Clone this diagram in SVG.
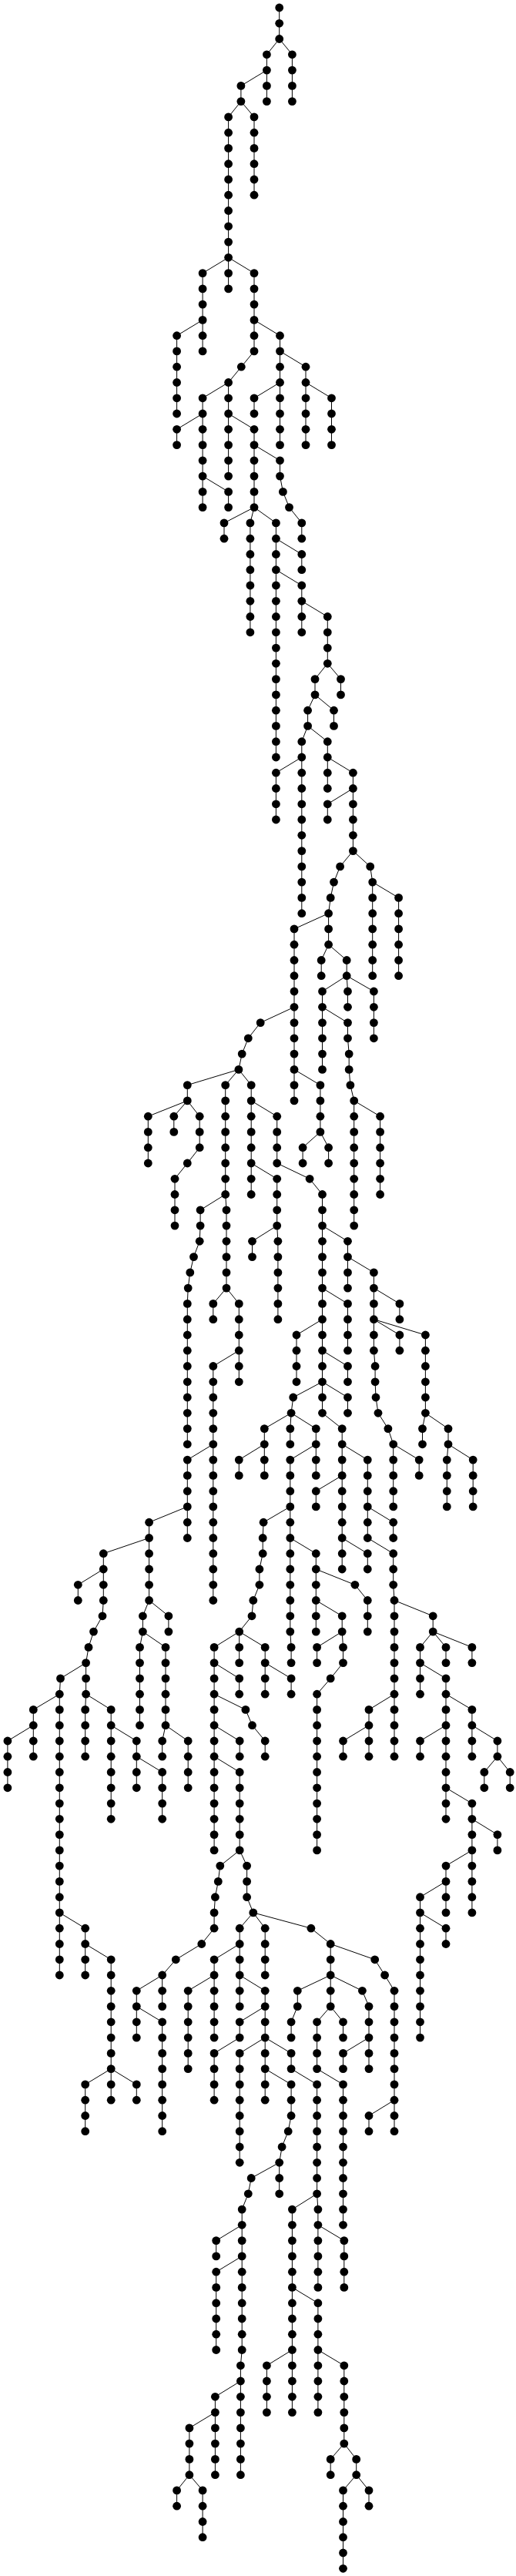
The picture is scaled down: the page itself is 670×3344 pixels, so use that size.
<svg xmlns="http://www.w3.org/2000/svg" xmlns:xlink="http://www.w3.org/1999/xlink" width="670" height="3344" viewBox="0 0 670 3344">
<style>.e{fill:none;stroke:#000;stroke-width:1}</style>
<defs><circle id="d" r="5.4" fill="#000"/></defs>
<rect width="670" height="3344" fill="#fff"/>
<g id="connectors">
<path class="e" d="M362.7 10V50.5M362.7 2807.3V2847.8M346.4 70.8V131.6M346.4 3070.8V3131.6M379.4 70.8V131.6M379.4 2868.1V3131.6M312.9 111.4V131.6M296.6 151.9V374.9M296.6 496.5V618.1M296.6 638.4V658.6M330 151.9V253.2M330 354.6V455.9M330 516.8V537M330 557.3V658.6M263.1 354.6V455.9M263.1 516.8V658.6M263.1 3232.9V3293.7M229.6 435.7V537M229.6 557.3V577.6M229.6 3232.9V3253.2M363.5 435.7V577.6M363.5 597.8V618.1M397 476.2V577.6M430.5 516.8V577.6M291 678.9V699.2M324.9 678.9V820.8M358.4 678.9V983M358.4 1003.2V1064M391.8 678.9V699.2M391.8 719.5V739.7M391.8 760V820.8M391.8 962.7V1185.7M425.3 800.5V861.3M425.3 962.7V1023.5M425.3 1043.8V1064M409 881.6V901.9M442.5 881.6V901.9M399.6 922.2V942.4M433.5 922.2V942.4M458.4 1003.2V1104.6M483.7 1145.1V1266.7M429.2 2523.5V2604.6M429.2 3192.4V3212.7M517.6 1165.4V1266.7M426.6 1185.7V1226.2M426.6 1489.7V1510M382 1205.9V1428.9M417.2 1246.5V1266.7M450.2 1246.5V1266.7M418.5 1287V1388.4M418.5 1550.5V1834.3M451.5 1287V1307.3M451.5 1327.6V1347.8M451.5 1611.3V1672.1M451.5 1692.4V1753.2M451.5 1773.5V1793.8M451.5 1814V1834.3M485.4 1287V1347.8M485.4 1651.9V1753.2M453.2 1368.1V1388.4M314.2 2868.1V3050.5M243.3 1408.6V1428.9M243.3 1692.4V1874.8M243.3 1895.1V1996.5M292.7 1408.6V1550.5M326.2 1408.6V1550.5M415.9 1408.6V1469.4M459.7 1428.9V1591.1M192.3 1449.2V1510M225.8 1449.2V1469.4M259.2 1449.2V1489.7M359.7 1449.2V1510M359.7 1530.3V1591.1M493.6 1449.2V1550.5M393.1 1489.7V1510M227 1530.3V1591.1M260.1 1570.8V1591.1M294 1570.8V1672.1M327.5 1611.3V1631.6M360.9 1611.3V1712.7M244.2 2260V2320.8M244.2 2584.3V2685.6M276.8 1692.4V1712.7M276.8 1773.5V2077.5M310.3 1692.4V1793.8M310.3 1895.1V1915.4M518.9 1692.4V1712.7M518.9 1733V1753.2M385 1733V1793.8M552.4 1733V1834.3M487.1 1773.5V1793.8M378.1 2138.4V2158.6M378.1 2178.9V2199.2M378.1 2624.8V2645.1M378.1 2665.4V2685.6M378.1 2705.9V2746.5M343.3 1854.6V1915.4M376.8 1854.6V1874.8M376.8 1895.1V2118.1M410.3 1854.6V1915.4M410.3 1935.7V1955.9M410.3 2016.7V2118.1M444.2 1854.6V2037M444.2 2097.8V2118.1M548.5 1854.6V1874.8M582 1854.6V1874.8M510.7 1874.8V1955.9M510.7 1976.2V1996.5M510.7 2016.7V2057.3M477.3 1895.1V1996.5M477.3 2016.7V2037M477.3 2077.5V2118.1M544.2 1895.1V1915.4M580.3 1895.1V1955.9M614.2 1895.1V1955.9M193.6 1976.2V2077.5M341.2 1996.5V2016.7M134.3 2016.7V2077.5M336.9 2037V2057.3M101.3 2057.3V2077.5M512 2077.5V2280.2M512 2584.3V2766.7M185.4 2097.8V2118.1M218.9 2097.8V2118.1M562.2 2097.8V2118.1M310.7 2118.1V2158.6M310.7 2178.9V2199.2M181.5 2138.4V2239.7M215 2138.4V2239.7M278.1 2138.4V2401.9M278.1 2482.9V2503.2M278.1 2543.8V2645.1M278.1 2665.4V2726.2M344.2 2138.4V2199.2M344.2 2260V2280.2M344.2 2503.2V2564M344.2 2584.3V2726.2M411.6 2138.4V2158.6M411.6 2199.2V2401.9M411.6 2624.8V2685.6M411.6 2705.9V2847.8M445.5 2138.4V2158.6M445.5 2260V2280.2M445.5 2624.8V2645.1M445.5 2665.4V2685.6M445.5 2705.9V2888.3M445.5 3232.9V3334.3M545.5 2138.4V2199.2M545.5 2260V2280.2M545.5 2462.7V2645.1M579 2138.4V2158.6M579 2178.9V2361.3M579 2422.1V2482.9M579 2503.2V2523.5M612.9 2138.4V2158.6M612.9 2219.4V2280.2M612.9 2341.1V2482.9M111.6 2158.6V2199.2M77.3 2199.2V2564M43.3 2219.4V2280.2M110.7 2219.4V2280.2M110.7 2503.2V2564M110.7 2705.9V2766.7M144.2 2219.4V2361.3M144.2 2543.8V2726.2M479 2219.4V2280.2M479 2604.6V2685.6M479 2746.5V2766.7M479 3232.9V3253.2M9.9 2260V2320.8M177.3 2260V2320.8M177.3 2584.3V2645.1M177.3 2705.9V2726.2M210.7 2260V2280.2M210.7 2300.5V2361.3M210.7 2564V2604.6M210.7 2624.8V2766.7M311.2 2260V2280.2M311.2 2300.5V2401.9M311.2 2503.2V2604.6M311.2 2624.8V2645.1M311.2 2665.4V2807.3M645.9 2260V2280.2M645.9 2381.6V2401.9M628.8 2300.5V2320.8M662.2 2300.5V2320.8M320.6 2422.1V2462.7M279.4 3111.3V3212.7M386.3 2584.3V2604.6M412.9 2868.1V2969.4M412.9 2989.7V3131.6M280.7 2908.6V2928.9M280.7 2949.2V3050.5M446.8 2908.6V2969.4M446.8 3070.8V3172.1M312.4 3070.8V3212.7M245.9 3151.9V3212.7M462.7 3192.4V3212.7"/>
<path class="e" d="M362.7 50.5L346.4 70.8M362.7 50.5L379.4 70.8M346.4 91.1L312.9 111.4M312.9 131.6L296.6 151.9M312.9 131.6L330 151.9M296.6 334.3L263.1 354.6M296.6 334.3L330 354.6M263.1 415.4L229.6 435.7M330 415.4L363.5 435.7M330 455.9L313.3 476.2M363.5 455.9L397 476.2M313.3 476.2L296.6 496.5M296.6 496.5L263.1 516.8M363.5 496.5L330 516.8M397 496.5L430.5 516.8M263.1 537L229.6 557.3M296.6 537L330 557.3M330 577.6L363.5 597.8M263.1 618.1L296.6 638.4M363.5 618.1L367.4 638.4M367.4 638.4L375.5 658.6M330 658.6L291 678.9M330 658.6L324.9 678.9M330 658.6L358.4 678.9M375.5 658.6L391.8 678.9M358.4 699.2L391.8 719.5M358.4 739.7L391.8 760M391.8 780.3L425.3 800.5M425.3 861.3L409 881.6M425.3 861.3L442.5 881.6M409 901.9L399.6 922.2M409 901.9L433.5 922.2M399.6 942.4L391.8 962.7M399.6 942.4L425.3 962.7M391.8 983L358.4 1003.2M425.3 983L458.4 1003.2M458.4 1023.5L425.3 1043.8M458.4 1104.6L441.6 1124.9M458.4 1104.6L480.7 1124.9M441.6 1124.9L433.5 1145.1M480.7 1124.9L483.7 1145.1M433.5 1145.1L429.2 1165.4M483.7 1145.1L517.6 1165.4M429.2 1165.4L426.6 1185.7M426.6 1185.7L382 1205.9M426.6 1226.2L417.2 1246.5M426.6 1226.2L450.2 1246.5M450.2 1266.7L418.5 1287M450.2 1266.7L451.5 1287M450.2 1266.7L485.4 1287M382 1307.3L338.2 1327.6M418.5 1307.3L451.5 1327.6M338.2 1327.6L322.3 1347.8M322.3 1347.8L314.2 1368.1M451.5 1347.8L453.2 1368.1M314.2 1368.1L309.9 1388.4M309.9 1388.4L243.3 1408.6M309.9 1388.4L292.7 1408.6M309.9 1388.4L326.2 1408.6M382 1388.4L415.9 1408.6M453.2 1388.4L454.9 1408.6M454.9 1408.6L459.7 1428.9M243.3 1428.9L192.3 1449.2M243.3 1428.9L225.8 1449.2M243.3 1428.9L259.2 1449.2M326.2 1428.9L359.7 1449.2M459.7 1428.9L493.6 1449.2M415.9 1469.4L393.1 1489.7M415.9 1469.4L426.6 1489.7M259.2 1489.7L243.3 1510M243.3 1510L227 1530.3M326.2 1510L359.7 1530.3M359.7 1510L402.1 1530.3M402.1 1530.3L418.5 1550.5M292.7 1550.5L260.1 1570.8M292.7 1550.5L294 1570.8M260.1 1591.1L259.2 1611.3M359.7 1591.1L327.5 1611.3M359.7 1591.1L360.9 1611.3M418.5 1591.1L451.5 1611.3M259.2 1611.3L251.5 1631.6M251.5 1631.6L246.8 1651.9M451.5 1631.6L485.4 1651.9M246.8 1651.9L244.2 1672.1M244.2 1672.1L243.3 1692.4M294 1672.1L276.8 1692.4M294 1672.1L310.3 1692.4M418.5 1672.1L451.5 1692.4M485.4 1672.1L518.9 1692.4M418.5 1712.7L385 1733M485.4 1712.7L518.9 1733M485.4 1712.7L552.4 1733M310.3 1753.2L276.8 1773.5M418.5 1753.2L451.5 1773.5M485.4 1753.2L487.1 1773.5M418.5 1793.8L380.7 1814M418.5 1793.8L451.5 1814M487.1 1793.8L488 1814M380.7 1814L378.1 1834.3M488 1814L491 1834.3M378.1 1834.3L343.3 1854.6M378.1 1834.3L376.8 1854.6M378.1 1834.3L410.3 1854.6M418.5 1834.3L444.2 1854.6M491 1834.3L503.9 1854.6M552.4 1834.3L548.5 1854.6M552.4 1834.3L582 1854.6M503.9 1854.6L510.7 1874.8M276.8 1874.8L243.3 1895.1M343.3 1874.8L310.3 1895.1M410.3 1874.8L376.8 1895.1M444.2 1874.8L477.3 1895.1M510.7 1874.8L544.2 1895.1M582 1874.8L580.3 1895.1M582 1874.8L614.2 1895.1M444.2 1915.4L410.3 1935.7M243.3 1955.9L193.6 1976.2M376.8 1955.9L342.1 1976.2M477.3 1955.9L510.7 1976.2M342.1 1976.2L341.2 1996.5M193.6 1996.5L134.3 2016.7M376.8 1996.5L410.3 2016.7M444.2 1996.5L477.3 2016.7M477.3 1996.5L510.7 2016.7M341.2 2016.7L336.9 2037M134.3 2037L101.3 2057.3M410.3 2037L460.9 2057.3M336.9 2057.3L328.8 2077.5M460.9 2057.3L477.3 2077.5M510.7 2057.3L512 2077.5M134.3 2077.5L133 2097.8M193.6 2077.5L185.4 2097.8M193.6 2077.5L218.9 2097.8M328.8 2077.5L327 2097.8M410.3 2077.5L444.2 2097.8M512 2077.5L562.2 2097.8M133 2097.8L121.5 2118.1M327 2097.8L310.7 2118.1M121.5 2118.1L115 2138.4M185.4 2118.1L181.5 2138.4M185.4 2118.1L215 2138.4M310.7 2118.1L278.1 2138.4M310.7 2118.1L344.2 2138.4M376.8 2118.1L378.1 2138.4M444.2 2118.1L411.6 2138.4M444.2 2118.1L445.5 2138.4M562.2 2118.1L545.5 2138.4M562.2 2118.1L579 2138.4M562.2 2118.1L612.9 2138.4M115 2138.4L111.6 2158.6M111.6 2158.6L78.5 2178.9M278.1 2158.6L310.7 2178.9M344.2 2158.6L378.1 2178.9M445.5 2158.6L429.2 2178.9M545.5 2158.6L579 2178.9M78.5 2178.9L77.3 2199.2M429.2 2178.9L411.6 2199.2M77.3 2199.2L43.3 2219.4M111.6 2199.2L110.7 2219.4M111.6 2199.2L144.2 2219.4M278.1 2199.2L318.9 2219.4M512 2199.2L479 2219.4M579 2199.2L612.9 2219.4M318.9 2219.4L327.5 2239.7M43.3 2239.7L9.9 2260M144.2 2239.7L177.3 2260M215 2239.7L210.7 2260M215 2239.7L244.2 2260M278.1 2239.7L311.2 2260M327.5 2239.7L344.2 2260M479 2239.7L445.5 2260M579 2239.7L545.5 2260M612.9 2239.7L645.9 2260M177.3 2280.2L210.7 2300.5M278.1 2280.2L311.2 2300.5M645.9 2280.2L628.8 2300.5M645.9 2280.2L662.2 2300.5M579 2320.8L612.9 2341.1M612.9 2361.3L645.9 2381.6M311.2 2401.9L285.8 2422.1M311.2 2401.9L320.6 2422.1M612.9 2401.9L579 2422.1M285.8 2422.1L283.3 2442.4M283.3 2442.4L279.4 2462.7M579 2442.4L545.5 2462.7M279.4 2462.7L278.1 2482.9M320.6 2462.7L328.8 2482.9M77.3 2482.9L110.7 2503.2M328.8 2482.9L311.2 2503.2M328.8 2482.9L344.2 2503.2M328.8 2482.9L403.9 2503.2M545.5 2482.9L579 2503.2M278.1 2503.2L261.8 2523.5M403.9 2503.2L429.2 2523.5M110.7 2523.5L144.2 2543.8M261.8 2523.5L228.3 2543.8M311.2 2523.5L278.1 2543.8M429.2 2523.5L486.7 2543.8M228.3 2543.8L210.7 2564M486.7 2543.8L499.6 2564M210.7 2564L177.3 2584.3M278.1 2564L244.2 2584.3M311.2 2564L344.2 2584.3M429.2 2564L386.3 2584.3M429.2 2564L470.4 2584.3M499.6 2564L512 2584.3M470.4 2584.3L479 2604.6M177.3 2604.6L210.7 2624.8M344.2 2604.6L311.2 2624.8M386.3 2604.6L378.1 2624.8M429.2 2604.6L411.6 2624.8M429.2 2604.6L445.5 2624.8M311.2 2645.1L278.1 2665.4M344.2 2645.1L311.2 2665.4M344.2 2645.1L378.1 2665.4M479 2645.1L445.5 2665.4M144.2 2685.6L110.7 2705.9M144.2 2685.6L177.3 2705.9M344.2 2685.6L378.1 2705.9M378.1 2685.6L411.6 2705.9M411.6 2685.6L445.5 2705.9M512 2726.2L479 2746.5M378.1 2746.5L374.2 2766.7M374.2 2766.7L366.1 2787M366.1 2787L362.7 2807.3M362.7 2807.3L326.2 2827.5M326.2 2827.5L322.3 2847.8M322.3 2847.8L314.2 2868.1M411.6 2847.8L379.4 2868.1M411.6 2847.8L412.9 2868.1M314.2 2888.3L280.7 2908.6M412.9 2888.3L446.8 2908.6M314.2 2928.9L280.7 2949.2M379.4 2969.4L412.9 2989.7M314.2 3050.5L312.4 3070.8M379.4 3050.5L346.4 3070.8M412.9 3050.5L446.8 3070.8M312.4 3091L279.4 3111.3M279.4 3131.6L245.9 3151.9M446.8 3172.1L429.2 3192.4M446.8 3172.1L462.7 3192.4M245.9 3212.7L229.6 3232.9M245.9 3212.7L263.1 3232.9M462.7 3212.7L445.5 3232.9M462.7 3212.7L479 3232.9"/>
</g>
<g id="nodes">
<g id="n0-845"><use href="#d" x="362.7" y="10"/></g>
<g id="n1-845"><use href="#d" x="362.7" y="30.3"/></g>
<g id="n2-845"><use href="#d" x="362.7" y="50.5"/></g>
<g id="n138-845"><use href="#d" x="362.7" y="2807.3"/></g>
<g id="n139-845"><use href="#d" x="362.7" y="2827.5"/></g>
<g id="n140-845"><use href="#d" x="362.7" y="2847.8"/></g>
<g id="n3-807"><use href="#d" x="346.4" y="70.8"/></g>
<g id="n4-807"><use href="#d" x="346.4" y="91.1"/></g>
<g id="n5-807"><use href="#d" x="346.4" y="111.4"/></g>
<g id="n6-807"><use href="#d" x="346.4" y="131.6"/></g>
<g id="n151-807"><use href="#d" x="346.4" y="3070.8"/></g>
<g id="n152-807"><use href="#d" x="346.4" y="3091"/></g>
<g id="n153-807"><use href="#d" x="346.4" y="3111.3"/></g>
<g id="n154-807"><use href="#d" x="346.4" y="3131.6"/></g>
<g id="n3-884"><use href="#d" x="379.4" y="70.8"/></g>
<g id="n4-884"><use href="#d" x="379.4" y="91.1"/></g>
<g id="n5-884"><use href="#d" x="379.4" y="111.4"/></g>
<g id="n6-884"><use href="#d" x="379.4" y="131.6"/></g>
<g id="n141-884"><use href="#d" x="379.4" y="2868.1"/></g>
<g id="n142-884"><use href="#d" x="379.4" y="2888.3"/></g>
<g id="n143-884"><use href="#d" x="379.4" y="2908.6"/></g>
<g id="n144-884"><use href="#d" x="379.4" y="2928.9"/></g>
<g id="n145-884"><use href="#d" x="379.4" y="2949.2"/></g>
<g id="n146-884"><use href="#d" x="379.4" y="2969.4"/></g>
<g id="n147-884"><use href="#d" x="379.4" y="2989.7"/></g>
<g id="n148-884"><use href="#d" x="379.4" y="3010"/></g>
<g id="n149-884"><use href="#d" x="379.4" y="3030.2"/></g>
<g id="n150-884"><use href="#d" x="379.4" y="3050.5"/></g>
<g id="n151-884"><use href="#d" x="379.4" y="3070.8"/></g>
<g id="n152-884"><use href="#d" x="379.4" y="3091"/></g>
<g id="n153-884"><use href="#d" x="379.4" y="3111.3"/></g>
<g id="n154-884"><use href="#d" x="379.4" y="3131.6"/></g>
<g id="n5-729"><use href="#d" x="312.9" y="111.4"/></g>
<g id="n6-729"><use href="#d" x="312.9" y="131.6"/></g>
<g id="n7-691"><use href="#d" x="296.6" y="151.9"/></g>
<g id="n8-691"><use href="#d" x="296.6" y="172.2"/></g>
<g id="n9-691"><use href="#d" x="296.6" y="192.4"/></g>
<g id="n10-691"><use href="#d" x="296.6" y="212.7"/></g>
<g id="n11-691"><use href="#d" x="296.6" y="233"/></g>
<g id="n12-691"><use href="#d" x="296.6" y="253.2"/></g>
<g id="n13-691"><use href="#d" x="296.6" y="273.5"/></g>
<g id="n14-691"><use href="#d" x="296.6" y="293.8"/></g>
<g id="n15-691"><use href="#d" x="296.6" y="314.1"/></g>
<g id="n16-691"><use href="#d" x="296.6" y="334.3"/></g>
<g id="n17-691"><use href="#d" x="296.6" y="354.6"/></g>
<g id="n18-691"><use href="#d" x="296.6" y="374.9"/></g>
<g id="n24-691"><use href="#d" x="296.6" y="496.5"/></g>
<g id="n25-691"><use href="#d" x="296.6" y="516.8"/></g>
<g id="n26-691"><use href="#d" x="296.6" y="537"/></g>
<g id="n27-691"><use href="#d" x="296.6" y="557.3"/></g>
<g id="n28-691"><use href="#d" x="296.6" y="577.6"/></g>
<g id="n29-691"><use href="#d" x="296.6" y="597.8"/></g>
<g id="n30-691"><use href="#d" x="296.6" y="618.1"/></g>
<g id="n31-691"><use href="#d" x="296.6" y="638.4"/></g>
<g id="n32-691"><use href="#d" x="296.6" y="658.6"/></g>
<g id="n7-769"><use href="#d" x="330" y="151.9"/></g>
<g id="n8-769"><use href="#d" x="330" y="172.2"/></g>
<g id="n9-769"><use href="#d" x="330" y="192.4"/></g>
<g id="n10-769"><use href="#d" x="330" y="212.7"/></g>
<g id="n11-769"><use href="#d" x="330" y="233"/></g>
<g id="n12-769"><use href="#d" x="330" y="253.2"/></g>
<g id="n17-769"><use href="#d" x="330" y="354.6"/></g>
<g id="n18-769"><use href="#d" x="330" y="374.9"/></g>
<g id="n19-769"><use href="#d" x="330" y="395.1"/></g>
<g id="n20-769"><use href="#d" x="330" y="415.4"/></g>
<g id="n21-769"><use href="#d" x="330" y="435.7"/></g>
<g id="n22-769"><use href="#d" x="330" y="455.9"/></g>
<g id="n25-769"><use href="#d" x="330" y="516.8"/></g>
<g id="n26-769"><use href="#d" x="330" y="537"/></g>
<g id="n27-769"><use href="#d" x="330" y="557.3"/></g>
<g id="n28-769"><use href="#d" x="330" y="577.6"/></g>
<g id="n29-769"><use href="#d" x="330" y="597.8"/></g>
<g id="n30-769"><use href="#d" x="330" y="618.1"/></g>
<g id="n31-769"><use href="#d" x="330" y="638.4"/></g>
<g id="n32-769"><use href="#d" x="330" y="658.6"/></g>
<g id="n17-613"><use href="#d" x="263.1" y="354.6"/></g>
<g id="n18-613"><use href="#d" x="263.1" y="374.9"/></g>
<g id="n19-613"><use href="#d" x="263.1" y="395.1"/></g>
<g id="n20-613"><use href="#d" x="263.1" y="415.4"/></g>
<g id="n21-613"><use href="#d" x="263.1" y="435.7"/></g>
<g id="n22-613"><use href="#d" x="263.1" y="455.9"/></g>
<g id="n25-613"><use href="#d" x="263.1" y="516.8"/></g>
<g id="n26-613"><use href="#d" x="263.1" y="537"/></g>
<g id="n27-613"><use href="#d" x="263.1" y="557.3"/></g>
<g id="n28-613"><use href="#d" x="263.1" y="577.6"/></g>
<g id="n29-613"><use href="#d" x="263.1" y="597.8"/></g>
<g id="n30-613"><use href="#d" x="263.1" y="618.1"/></g>
<g id="n31-613"><use href="#d" x="263.1" y="638.4"/></g>
<g id="n32-613"><use href="#d" x="263.1" y="658.6"/></g>
<g id="n159-613"><use href="#d" x="263.1" y="3232.9"/></g>
<g id="n160-613"><use href="#d" x="263.1" y="3253.2"/></g>
<g id="n161-613"><use href="#d" x="263.1" y="3273.5"/></g>
<g id="n162-613"><use href="#d" x="263.1" y="3293.7"/></g>
<g id="n21-535"><use href="#d" x="229.6" y="435.7"/></g>
<g id="n22-535"><use href="#d" x="229.6" y="455.9"/></g>
<g id="n23-535"><use href="#d" x="229.6" y="476.2"/></g>
<g id="n24-535"><use href="#d" x="229.6" y="496.5"/></g>
<g id="n25-535"><use href="#d" x="229.6" y="516.8"/></g>
<g id="n26-535"><use href="#d" x="229.6" y="537"/></g>
<g id="n27-535"><use href="#d" x="229.6" y="557.3"/></g>
<g id="n28-535"><use href="#d" x="229.6" y="577.6"/></g>
<g id="n159-535"><use href="#d" x="229.6" y="3232.9"/></g>
<g id="n160-535"><use href="#d" x="229.6" y="3253.2"/></g>
<g id="n21-847"><use href="#d" x="363.5" y="435.7"/></g>
<g id="n22-847"><use href="#d" x="363.5" y="455.9"/></g>
<g id="n23-847"><use href="#d" x="363.5" y="476.2"/></g>
<g id="n24-847"><use href="#d" x="363.5" y="496.5"/></g>
<g id="n25-847"><use href="#d" x="363.5" y="516.8"/></g>
<g id="n26-847"><use href="#d" x="363.5" y="537"/></g>
<g id="n27-847"><use href="#d" x="363.5" y="557.3"/></g>
<g id="n28-847"><use href="#d" x="363.5" y="577.6"/></g>
<g id="n29-847"><use href="#d" x="363.5" y="597.8"/></g>
<g id="n30-847"><use href="#d" x="363.5" y="618.1"/></g>
<g id="n23-730"><use href="#d" x="313.3" y="476.2"/></g>
<g id="n23-925"><use href="#d" x="397" y="476.2"/></g>
<g id="n24-925"><use href="#d" x="397" y="496.5"/></g>
<g id="n25-925"><use href="#d" x="397" y="516.8"/></g>
<g id="n26-925"><use href="#d" x="397" y="537"/></g>
<g id="n27-925"><use href="#d" x="397" y="557.3"/></g>
<g id="n28-925"><use href="#d" x="397" y="577.6"/></g>
<g id="n25-1003"><use href="#d" x="430.5" y="516.8"/></g>
<g id="n26-1003"><use href="#d" x="430.5" y="537"/></g>
<g id="n27-1003"><use href="#d" x="430.5" y="557.3"/></g>
<g id="n28-1003"><use href="#d" x="430.5" y="577.6"/></g>
<g id="n31-856"><use href="#d" x="367.4" y="638.4"/></g>
<g id="n32-875"><use href="#d" x="375.5" y="658.6"/></g>
<g id="n33-678"><use href="#d" x="291" y="678.9"/></g>
<g id="n34-678"><use href="#d" x="291" y="699.2"/></g>
<g id="n33-757"><use href="#d" x="324.9" y="678.9"/></g>
<g id="n34-757"><use href="#d" x="324.9" y="699.2"/></g>
<g id="n35-757"><use href="#d" x="324.9" y="719.5"/></g>
<g id="n36-757"><use href="#d" x="324.9" y="739.7"/></g>
<g id="n37-757"><use href="#d" x="324.9" y="760"/></g>
<g id="n38-757"><use href="#d" x="324.9" y="780.3"/></g>
<g id="n39-757"><use href="#d" x="324.9" y="800.5"/></g>
<g id="n40-757"><use href="#d" x="324.9" y="820.8"/></g>
<g id="n33-835"><use href="#d" x="358.4" y="678.9"/></g>
<g id="n34-835"><use href="#d" x="358.4" y="699.2"/></g>
<g id="n35-835"><use href="#d" x="358.4" y="719.5"/></g>
<g id="n36-835"><use href="#d" x="358.4" y="739.7"/></g>
<g id="n37-835"><use href="#d" x="358.4" y="760"/></g>
<g id="n38-835"><use href="#d" x="358.4" y="780.3"/></g>
<g id="n39-835"><use href="#d" x="358.4" y="800.5"/></g>
<g id="n40-835"><use href="#d" x="358.4" y="820.8"/></g>
<g id="n41-835"><use href="#d" x="358.4" y="841.1"/></g>
<g id="n42-835"><use href="#d" x="358.4" y="861.3"/></g>
<g id="n43-835"><use href="#d" x="358.4" y="881.6"/></g>
<g id="n44-835"><use href="#d" x="358.4" y="901.9"/></g>
<g id="n45-835"><use href="#d" x="358.4" y="922.2"/></g>
<g id="n46-835"><use href="#d" x="358.4" y="942.4"/></g>
<g id="n47-835"><use href="#d" x="358.4" y="962.7"/></g>
<g id="n48-835"><use href="#d" x="358.4" y="983"/></g>
<g id="n49-835"><use href="#d" x="358.4" y="1003.2"/></g>
<g id="n50-835"><use href="#d" x="358.4" y="1023.5"/></g>
<g id="n51-835"><use href="#d" x="358.4" y="1043.8"/></g>
<g id="n52-835"><use href="#d" x="358.4" y="1064"/></g>
<g id="n33-913"><use href="#d" x="391.8" y="678.9"/></g>
<g id="n34-913"><use href="#d" x="391.8" y="699.2"/></g>
<g id="n35-913"><use href="#d" x="391.8" y="719.5"/></g>
<g id="n36-913"><use href="#d" x="391.8" y="739.7"/></g>
<g id="n37-913"><use href="#d" x="391.8" y="760"/></g>
<g id="n38-913"><use href="#d" x="391.8" y="780.3"/></g>
<g id="n39-913"><use href="#d" x="391.8" y="800.5"/></g>
<g id="n40-913"><use href="#d" x="391.8" y="820.8"/></g>
<g id="n47-913"><use href="#d" x="391.8" y="962.7"/></g>
<g id="n48-913"><use href="#d" x="391.8" y="983"/></g>
<g id="n49-913"><use href="#d" x="391.8" y="1003.2"/></g>
<g id="n50-913"><use href="#d" x="391.8" y="1023.5"/></g>
<g id="n51-913"><use href="#d" x="391.8" y="1043.8"/></g>
<g id="n52-913"><use href="#d" x="391.8" y="1064"/></g>
<g id="n53-913"><use href="#d" x="391.8" y="1084.3"/></g>
<g id="n54-913"><use href="#d" x="391.8" y="1104.6"/></g>
<g id="n55-913"><use href="#d" x="391.8" y="1124.9"/></g>
<g id="n56-913"><use href="#d" x="391.8" y="1145.1"/></g>
<g id="n57-913"><use href="#d" x="391.8" y="1165.4"/></g>
<g id="n58-913"><use href="#d" x="391.8" y="1185.7"/></g>
<g id="n39-991"><use href="#d" x="425.3" y="800.5"/></g>
<g id="n40-991"><use href="#d" x="425.3" y="820.8"/></g>
<g id="n41-991"><use href="#d" x="425.3" y="841.1"/></g>
<g id="n42-991"><use href="#d" x="425.3" y="861.3"/></g>
<g id="n47-991"><use href="#d" x="425.3" y="962.7"/></g>
<g id="n48-991"><use href="#d" x="425.3" y="983"/></g>
<g id="n49-991"><use href="#d" x="425.3" y="1003.2"/></g>
<g id="n50-991"><use href="#d" x="425.3" y="1023.5"/></g>
<g id="n51-991"><use href="#d" x="425.3" y="1043.8"/></g>
<g id="n52-991"><use href="#d" x="425.3" y="1064"/></g>
<g id="n43-953"><use href="#d" x="409" y="881.6"/></g>
<g id="n44-953"><use href="#d" x="409" y="901.9"/></g>
<g id="n43-1031"><use href="#d" x="442.5" y="881.6"/></g>
<g id="n44-1031"><use href="#d" x="442.5" y="901.9"/></g>
<g id="n45-931"><use href="#d" x="399.6" y="922.2"/></g>
<g id="n46-931"><use href="#d" x="399.6" y="942.4"/></g>
<g id="n45-1010"><use href="#d" x="433.5" y="922.2"/></g>
<g id="n46-1010"><use href="#d" x="433.5" y="942.4"/></g>
<g id="n56-1010"><use href="#d" x="433.5" y="1145.1"/></g>
<g id="n49-1068"><use href="#d" x="458.4" y="1003.2"/></g>
<g id="n50-1068"><use href="#d" x="458.4" y="1023.5"/></g>
<g id="n51-1068"><use href="#d" x="458.4" y="1043.8"/></g>
<g id="n52-1068"><use href="#d" x="458.4" y="1064"/></g>
<g id="n53-1068"><use href="#d" x="458.4" y="1084.3"/></g>
<g id="n54-1068"><use href="#d" x="458.4" y="1104.6"/></g>
<g id="n55-1029"><use href="#d" x="441.6" y="1124.9"/></g>
<g id="n55-1120"><use href="#d" x="480.7" y="1124.9"/></g>
<g id="n56-1127"><use href="#d" x="483.7" y="1145.1"/></g>
<g id="n57-1127"><use href="#d" x="483.7" y="1165.4"/></g>
<g id="n58-1127"><use href="#d" x="483.7" y="1185.7"/></g>
<g id="n59-1127"><use href="#d" x="483.7" y="1205.9"/></g>
<g id="n60-1127"><use href="#d" x="483.7" y="1226.2"/></g>
<g id="n61-1127"><use href="#d" x="483.7" y="1246.5"/></g>
<g id="n62-1127"><use href="#d" x="483.7" y="1266.7"/></g>
<g id="n57-1000"><use href="#d" x="429.2" y="1165.4"/></g>
<g id="n107-1000"><use href="#d" x="429.2" y="2178.9"/></g>
<g id="n124-1000"><use href="#d" x="429.2" y="2523.5"/></g>
<g id="n125-1000"><use href="#d" x="429.2" y="2543.8"/></g>
<g id="n126-1000"><use href="#d" x="429.2" y="2564"/></g>
<g id="n127-1000"><use href="#d" x="429.2" y="2584.3"/></g>
<g id="n128-1000"><use href="#d" x="429.2" y="2604.6"/></g>
<g id="n157-1000"><use href="#d" x="429.2" y="3192.4"/></g>
<g id="n158-1000"><use href="#d" x="429.2" y="3212.7"/></g>
<g id="n57-1206"><use href="#d" x="517.6" y="1165.4"/></g>
<g id="n58-1206"><use href="#d" x="517.6" y="1185.7"/></g>
<g id="n59-1206"><use href="#d" x="517.6" y="1205.9"/></g>
<g id="n60-1206"><use href="#d" x="517.6" y="1226.2"/></g>
<g id="n61-1206"><use href="#d" x="517.6" y="1246.5"/></g>
<g id="n62-1206"><use href="#d" x="517.6" y="1266.7"/></g>
<g id="n58-994"><use href="#d" x="426.6" y="1185.7"/></g>
<g id="n59-994"><use href="#d" x="426.6" y="1205.9"/></g>
<g id="n60-994"><use href="#d" x="426.6" y="1226.2"/></g>
<g id="n73-994"><use href="#d" x="426.6" y="1489.7"/></g>
<g id="n74-994"><use href="#d" x="426.6" y="1510"/></g>
<g id="n59-890"><use href="#d" x="382" y="1205.9"/></g>
<g id="n60-890"><use href="#d" x="382" y="1226.2"/></g>
<g id="n61-890"><use href="#d" x="382" y="1246.5"/></g>
<g id="n62-890"><use href="#d" x="382" y="1266.7"/></g>
<g id="n63-890"><use href="#d" x="382" y="1287"/></g>
<g id="n64-890"><use href="#d" x="382" y="1307.3"/></g>
<g id="n65-890"><use href="#d" x="382" y="1327.6"/></g>
<g id="n66-890"><use href="#d" x="382" y="1347.8"/></g>
<g id="n67-890"><use href="#d" x="382" y="1368.1"/></g>
<g id="n68-890"><use href="#d" x="382" y="1388.4"/></g>
<g id="n69-890"><use href="#d" x="382" y="1408.6"/></g>
<g id="n70-890"><use href="#d" x="382" y="1428.9"/></g>
<g id="n61-972"><use href="#d" x="417.2" y="1246.5"/></g>
<g id="n62-972"><use href="#d" x="417.2" y="1266.7"/></g>
<g id="n61-1049"><use href="#d" x="450.2" y="1246.5"/></g>
<g id="n62-1049"><use href="#d" x="450.2" y="1266.7"/></g>
<g id="n63-975"><use href="#d" x="418.5" y="1287"/></g>
<g id="n64-975"><use href="#d" x="418.5" y="1307.3"/></g>
<g id="n65-975"><use href="#d" x="418.5" y="1327.6"/></g>
<g id="n66-975"><use href="#d" x="418.5" y="1347.8"/></g>
<g id="n67-975"><use href="#d" x="418.5" y="1368.1"/></g>
<g id="n68-975"><use href="#d" x="418.5" y="1388.4"/></g>
<g id="n76-975"><use href="#d" x="418.5" y="1550.5"/></g>
<g id="n77-975"><use href="#d" x="418.5" y="1570.8"/></g>
<g id="n78-975"><use href="#d" x="418.5" y="1591.1"/></g>
<g id="n79-975"><use href="#d" x="418.5" y="1611.3"/></g>
<g id="n80-975"><use href="#d" x="418.5" y="1631.6"/></g>
<g id="n81-975"><use href="#d" x="418.5" y="1651.9"/></g>
<g id="n82-975"><use href="#d" x="418.5" y="1672.1"/></g>
<g id="n83-975"><use href="#d" x="418.5" y="1692.4"/></g>
<g id="n84-975"><use href="#d" x="418.5" y="1712.7"/></g>
<g id="n85-975"><use href="#d" x="418.5" y="1733"/></g>
<g id="n86-975"><use href="#d" x="418.5" y="1753.2"/></g>
<g id="n87-975"><use href="#d" x="418.5" y="1773.5"/></g>
<g id="n88-975"><use href="#d" x="418.5" y="1793.8"/></g>
<g id="n89-975"><use href="#d" x="418.5" y="1814"/></g>
<g id="n90-975"><use href="#d" x="418.5" y="1834.3"/></g>
<g id="n63-1052"><use href="#d" x="451.5" y="1287"/></g>
<g id="n64-1052"><use href="#d" x="451.5" y="1307.3"/></g>
<g id="n65-1052"><use href="#d" x="451.5" y="1327.6"/></g>
<g id="n66-1052"><use href="#d" x="451.5" y="1347.8"/></g>
<g id="n79-1052"><use href="#d" x="451.5" y="1611.3"/></g>
<g id="n80-1052"><use href="#d" x="451.5" y="1631.6"/></g>
<g id="n81-1052"><use href="#d" x="451.5" y="1651.9"/></g>
<g id="n82-1052"><use href="#d" x="451.5" y="1672.1"/></g>
<g id="n83-1052"><use href="#d" x="451.5" y="1692.4"/></g>
<g id="n84-1052"><use href="#d" x="451.5" y="1712.7"/></g>
<g id="n85-1052"><use href="#d" x="451.5" y="1733"/></g>
<g id="n86-1052"><use href="#d" x="451.5" y="1753.2"/></g>
<g id="n87-1052"><use href="#d" x="451.5" y="1773.5"/></g>
<g id="n88-1052"><use href="#d" x="451.5" y="1793.8"/></g>
<g id="n89-1052"><use href="#d" x="451.5" y="1814"/></g>
<g id="n90-1052"><use href="#d" x="451.5" y="1834.3"/></g>
<g id="n63-1131"><use href="#d" x="485.4" y="1287"/></g>
<g id="n64-1131"><use href="#d" x="485.4" y="1307.3"/></g>
<g id="n65-1131"><use href="#d" x="485.4" y="1327.6"/></g>
<g id="n66-1131"><use href="#d" x="485.4" y="1347.8"/></g>
<g id="n81-1131"><use href="#d" x="485.4" y="1651.9"/></g>
<g id="n82-1131"><use href="#d" x="485.4" y="1672.1"/></g>
<g id="n83-1131"><use href="#d" x="485.4" y="1692.4"/></g>
<g id="n84-1131"><use href="#d" x="485.4" y="1712.7"/></g>
<g id="n85-1131"><use href="#d" x="485.4" y="1733"/></g>
<g id="n86-1131"><use href="#d" x="485.4" y="1753.2"/></g>
<g id="n67-1056"><use href="#d" x="453.2" y="1368.1"/></g>
<g id="n68-1056"><use href="#d" x="453.2" y="1388.4"/></g>
<g id="n65-788"><use href="#d" x="338.2" y="1327.6"/></g>
<g id="n66-751"><use href="#d" x="322.3" y="1347.8"/></g>
<g id="n140-751"><use href="#d" x="322.3" y="2847.8"/></g>
<g id="n67-732"><use href="#d" x="314.2" y="1368.1"/></g>
<g id="n141-732"><use href="#d" x="314.2" y="2868.1"/></g>
<g id="n142-732"><use href="#d" x="314.2" y="2888.3"/></g>
<g id="n143-732"><use href="#d" x="314.2" y="2908.6"/></g>
<g id="n144-732"><use href="#d" x="314.2" y="2928.9"/></g>
<g id="n145-732"><use href="#d" x="314.2" y="2949.2"/></g>
<g id="n146-732"><use href="#d" x="314.2" y="2969.4"/></g>
<g id="n147-732"><use href="#d" x="314.2" y="2989.7"/></g>
<g id="n148-732"><use href="#d" x="314.2" y="3010"/></g>
<g id="n149-732"><use href="#d" x="314.2" y="3030.2"/></g>
<g id="n150-732"><use href="#d" x="314.2" y="3050.5"/></g>
<g id="n68-722"><use href="#d" x="309.9" y="1388.4"/></g>
<g id="n69-567"><use href="#d" x="243.3" y="1408.6"/></g>
<g id="n70-567"><use href="#d" x="243.3" y="1428.9"/></g>
<g id="n74-567"><use href="#d" x="243.3" y="1510"/></g>
<g id="n83-567"><use href="#d" x="243.3" y="1692.4"/></g>
<g id="n84-567"><use href="#d" x="243.3" y="1712.7"/></g>
<g id="n85-567"><use href="#d" x="243.3" y="1733"/></g>
<g id="n86-567"><use href="#d" x="243.3" y="1753.2"/></g>
<g id="n87-567"><use href="#d" x="243.3" y="1773.5"/></g>
<g id="n88-567"><use href="#d" x="243.3" y="1793.8"/></g>
<g id="n89-567"><use href="#d" x="243.3" y="1814"/></g>
<g id="n90-567"><use href="#d" x="243.3" y="1834.3"/></g>
<g id="n91-567"><use href="#d" x="243.3" y="1854.6"/></g>
<g id="n92-567"><use href="#d" x="243.3" y="1874.8"/></g>
<g id="n93-567"><use href="#d" x="243.3" y="1895.1"/></g>
<g id="n94-567"><use href="#d" x="243.3" y="1915.4"/></g>
<g id="n95-567"><use href="#d" x="243.3" y="1935.7"/></g>
<g id="n96-567"><use href="#d" x="243.3" y="1955.9"/></g>
<g id="n97-567"><use href="#d" x="243.3" y="1976.2"/></g>
<g id="n98-567"><use href="#d" x="243.3" y="1996.5"/></g>
<g id="n69-682"><use href="#d" x="292.7" y="1408.6"/></g>
<g id="n70-682"><use href="#d" x="292.7" y="1428.9"/></g>
<g id="n71-682"><use href="#d" x="292.7" y="1449.2"/></g>
<g id="n72-682"><use href="#d" x="292.7" y="1469.4"/></g>
<g id="n73-682"><use href="#d" x="292.7" y="1489.7"/></g>
<g id="n74-682"><use href="#d" x="292.7" y="1510"/></g>
<g id="n75-682"><use href="#d" x="292.7" y="1530.3"/></g>
<g id="n76-682"><use href="#d" x="292.7" y="1550.5"/></g>
<g id="n69-760"><use href="#d" x="326.2" y="1408.6"/></g>
<g id="n70-760"><use href="#d" x="326.2" y="1428.9"/></g>
<g id="n71-760"><use href="#d" x="326.2" y="1449.2"/></g>
<g id="n72-760"><use href="#d" x="326.2" y="1469.4"/></g>
<g id="n73-760"><use href="#d" x="326.2" y="1489.7"/></g>
<g id="n74-760"><use href="#d" x="326.2" y="1510"/></g>
<g id="n75-760"><use href="#d" x="326.2" y="1530.3"/></g>
<g id="n76-760"><use href="#d" x="326.2" y="1550.5"/></g>
<g id="n139-760"><use href="#d" x="326.2" y="2827.5"/></g>
<g id="n69-969"><use href="#d" x="415.9" y="1408.6"/></g>
<g id="n70-969"><use href="#d" x="415.9" y="1428.9"/></g>
<g id="n71-969"><use href="#d" x="415.9" y="1449.2"/></g>
<g id="n72-969"><use href="#d" x="415.9" y="1469.4"/></g>
<g id="n69-1060"><use href="#d" x="454.9" y="1408.6"/></g>
<g id="n70-1071"><use href="#d" x="459.7" y="1428.9"/></g>
<g id="n71-1071"><use href="#d" x="459.7" y="1449.2"/></g>
<g id="n72-1071"><use href="#d" x="459.7" y="1469.4"/></g>
<g id="n73-1071"><use href="#d" x="459.7" y="1489.7"/></g>
<g id="n74-1071"><use href="#d" x="459.7" y="1510"/></g>
<g id="n75-1071"><use href="#d" x="459.7" y="1530.3"/></g>
<g id="n76-1071"><use href="#d" x="459.7" y="1550.5"/></g>
<g id="n77-1071"><use href="#d" x="459.7" y="1570.8"/></g>
<g id="n78-1071"><use href="#d" x="459.7" y="1591.1"/></g>
<g id="n71-448"><use href="#d" x="192.3" y="1449.2"/></g>
<g id="n72-448"><use href="#d" x="192.3" y="1469.4"/></g>
<g id="n73-448"><use href="#d" x="192.3" y="1489.7"/></g>
<g id="n74-448"><use href="#d" x="192.3" y="1510"/></g>
<g id="n71-526"><use href="#d" x="225.8" y="1449.2"/></g>
<g id="n72-526"><use href="#d" x="225.8" y="1469.4"/></g>
<g id="n71-604"><use href="#d" x="259.2" y="1449.2"/></g>
<g id="n72-604"><use href="#d" x="259.2" y="1469.4"/></g>
<g id="n73-604"><use href="#d" x="259.2" y="1489.7"/></g>
<g id="n79-604"><use href="#d" x="259.2" y="1611.3"/></g>
<g id="n71-838"><use href="#d" x="359.7" y="1449.2"/></g>
<g id="n72-838"><use href="#d" x="359.7" y="1469.4"/></g>
<g id="n73-838"><use href="#d" x="359.7" y="1489.7"/></g>
<g id="n74-838"><use href="#d" x="359.7" y="1510"/></g>
<g id="n75-838"><use href="#d" x="359.7" y="1530.3"/></g>
<g id="n76-838"><use href="#d" x="359.7" y="1550.5"/></g>
<g id="n77-838"><use href="#d" x="359.7" y="1570.8"/></g>
<g id="n78-838"><use href="#d" x="359.7" y="1591.1"/></g>
<g id="n71-1150"><use href="#d" x="493.6" y="1449.2"/></g>
<g id="n72-1150"><use href="#d" x="493.6" y="1469.4"/></g>
<g id="n73-1150"><use href="#d" x="493.6" y="1489.7"/></g>
<g id="n74-1150"><use href="#d" x="493.6" y="1510"/></g>
<g id="n75-1150"><use href="#d" x="493.6" y="1530.3"/></g>
<g id="n76-1150"><use href="#d" x="493.6" y="1550.5"/></g>
<g id="n73-916"><use href="#d" x="393.1" y="1489.7"/></g>
<g id="n74-916"><use href="#d" x="393.1" y="1510"/></g>
<g id="n75-529"><use href="#d" x="227" y="1530.3"/></g>
<g id="n76-529"><use href="#d" x="227" y="1550.5"/></g>
<g id="n77-529"><use href="#d" x="227" y="1570.8"/></g>
<g id="n78-529"><use href="#d" x="227" y="1591.1"/></g>
<g id="n75-937"><use href="#d" x="402.1" y="1530.3"/></g>
<g id="n77-606"><use href="#d" x="260.1" y="1570.8"/></g>
<g id="n78-606"><use href="#d" x="260.1" y="1591.1"/></g>
<g id="n77-685"><use href="#d" x="294" y="1570.8"/></g>
<g id="n78-685"><use href="#d" x="294" y="1591.1"/></g>
<g id="n79-685"><use href="#d" x="294" y="1611.3"/></g>
<g id="n80-685"><use href="#d" x="294" y="1631.6"/></g>
<g id="n81-685"><use href="#d" x="294" y="1651.9"/></g>
<g id="n82-685"><use href="#d" x="294" y="1672.1"/></g>
<g id="n79-763"><use href="#d" x="327.5" y="1611.3"/></g>
<g id="n80-763"><use href="#d" x="327.5" y="1631.6"/></g>
<g id="n110-763"><use href="#d" x="327.5" y="2239.7"/></g>
<g id="n79-841"><use href="#d" x="360.9" y="1611.3"/></g>
<g id="n80-841"><use href="#d" x="360.9" y="1631.6"/></g>
<g id="n81-841"><use href="#d" x="360.9" y="1651.9"/></g>
<g id="n82-841"><use href="#d" x="360.9" y="1672.1"/></g>
<g id="n83-841"><use href="#d" x="360.9" y="1692.4"/></g>
<g id="n84-841"><use href="#d" x="360.9" y="1712.7"/></g>
<g id="n80-586"><use href="#d" x="251.5" y="1631.6"/></g>
<g id="n81-575"><use href="#d" x="246.8" y="1651.9"/></g>
<g id="n82-569"><use href="#d" x="244.2" y="1672.1"/></g>
<g id="n111-569"><use href="#d" x="244.2" y="2260"/></g>
<g id="n112-569"><use href="#d" x="244.2" y="2280.2"/></g>
<g id="n113-569"><use href="#d" x="244.2" y="2300.5"/></g>
<g id="n114-569"><use href="#d" x="244.2" y="2320.8"/></g>
<g id="n127-569"><use href="#d" x="244.2" y="2584.3"/></g>
<g id="n128-569"><use href="#d" x="244.2" y="2604.6"/></g>
<g id="n129-569"><use href="#d" x="244.2" y="2624.8"/></g>
<g id="n130-569"><use href="#d" x="244.2" y="2645.1"/></g>
<g id="n131-569"><use href="#d" x="244.2" y="2665.4"/></g>
<g id="n132-569"><use href="#d" x="244.2" y="2685.6"/></g>
<g id="n83-645"><use href="#d" x="276.8" y="1692.4"/></g>
<g id="n84-645"><use href="#d" x="276.8" y="1712.7"/></g>
<g id="n87-645"><use href="#d" x="276.8" y="1773.5"/></g>
<g id="n88-645"><use href="#d" x="276.8" y="1793.8"/></g>
<g id="n89-645"><use href="#d" x="276.8" y="1814"/></g>
<g id="n90-645"><use href="#d" x="276.8" y="1834.3"/></g>
<g id="n91-645"><use href="#d" x="276.8" y="1854.6"/></g>
<g id="n92-645"><use href="#d" x="276.8" y="1874.8"/></g>
<g id="n93-645"><use href="#d" x="276.8" y="1895.1"/></g>
<g id="n94-645"><use href="#d" x="276.8" y="1915.4"/></g>
<g id="n95-645"><use href="#d" x="276.8" y="1935.7"/></g>
<g id="n96-645"><use href="#d" x="276.8" y="1955.9"/></g>
<g id="n97-645"><use href="#d" x="276.8" y="1976.2"/></g>
<g id="n98-645"><use href="#d" x="276.8" y="1996.5"/></g>
<g id="n99-645"><use href="#d" x="276.8" y="2016.7"/></g>
<g id="n100-645"><use href="#d" x="276.8" y="2037"/></g>
<g id="n101-645"><use href="#d" x="276.8" y="2057.3"/></g>
<g id="n102-645"><use href="#d" x="276.8" y="2077.5"/></g>
<g id="n83-723"><use href="#d" x="310.3" y="1692.4"/></g>
<g id="n84-723"><use href="#d" x="310.3" y="1712.7"/></g>
<g id="n85-723"><use href="#d" x="310.3" y="1733"/></g>
<g id="n86-723"><use href="#d" x="310.3" y="1753.2"/></g>
<g id="n87-723"><use href="#d" x="310.3" y="1773.5"/></g>
<g id="n88-723"><use href="#d" x="310.3" y="1793.8"/></g>
<g id="n93-723"><use href="#d" x="310.3" y="1895.1"/></g>
<g id="n94-723"><use href="#d" x="310.3" y="1915.4"/></g>
<g id="n83-1209"><use href="#d" x="518.9" y="1692.4"/></g>
<g id="n84-1209"><use href="#d" x="518.9" y="1712.7"/></g>
<g id="n85-1209"><use href="#d" x="518.9" y="1733"/></g>
<g id="n86-1209"><use href="#d" x="518.9" y="1753.2"/></g>
<g id="n85-897"><use href="#d" x="385" y="1733"/></g>
<g id="n86-897"><use href="#d" x="385" y="1753.2"/></g>
<g id="n87-897"><use href="#d" x="385" y="1773.5"/></g>
<g id="n88-897"><use href="#d" x="385" y="1793.8"/></g>
<g id="n85-1287"><use href="#d" x="552.4" y="1733"/></g>
<g id="n86-1287"><use href="#d" x="552.4" y="1753.2"/></g>
<g id="n87-1287"><use href="#d" x="552.4" y="1773.5"/></g>
<g id="n88-1287"><use href="#d" x="552.4" y="1793.8"/></g>
<g id="n89-1287"><use href="#d" x="552.4" y="1814"/></g>
<g id="n90-1287"><use href="#d" x="552.4" y="1834.3"/></g>
<g id="n87-1135"><use href="#d" x="487.1" y="1773.5"/></g>
<g id="n88-1135"><use href="#d" x="487.1" y="1793.8"/></g>
<g id="n89-887"><use href="#d" x="380.7" y="1814"/></g>
<g id="n89-1137"><use href="#d" x="488" y="1814"/></g>
<g id="n90-881"><use href="#d" x="378.1" y="1834.3"/></g>
<g id="n105-881"><use href="#d" x="378.1" y="2138.4"/></g>
<g id="n106-881"><use href="#d" x="378.1" y="2158.6"/></g>
<g id="n107-881"><use href="#d" x="378.1" y="2178.9"/></g>
<g id="n108-881"><use href="#d" x="378.1" y="2199.2"/></g>
<g id="n129-881"><use href="#d" x="378.1" y="2624.8"/></g>
<g id="n130-881"><use href="#d" x="378.1" y="2645.1"/></g>
<g id="n131-881"><use href="#d" x="378.1" y="2665.4"/></g>
<g id="n132-881"><use href="#d" x="378.1" y="2685.6"/></g>
<g id="n133-881"><use href="#d" x="378.1" y="2705.9"/></g>
<g id="n134-881"><use href="#d" x="378.1" y="2726.2"/></g>
<g id="n135-881"><use href="#d" x="378.1" y="2746.5"/></g>
<g id="n90-1144"><use href="#d" x="491" y="1834.3"/></g>
<g id="n91-800"><use href="#d" x="343.3" y="1854.6"/></g>
<g id="n92-800"><use href="#d" x="343.3" y="1874.8"/></g>
<g id="n93-800"><use href="#d" x="343.3" y="1895.1"/></g>
<g id="n94-800"><use href="#d" x="343.3" y="1915.4"/></g>
<g id="n91-878"><use href="#d" x="376.8" y="1854.6"/></g>
<g id="n92-878"><use href="#d" x="376.8" y="1874.8"/></g>
<g id="n93-878"><use href="#d" x="376.8" y="1895.1"/></g>
<g id="n94-878"><use href="#d" x="376.8" y="1915.4"/></g>
<g id="n95-878"><use href="#d" x="376.8" y="1935.7"/></g>
<g id="n96-878"><use href="#d" x="376.8" y="1955.9"/></g>
<g id="n97-878"><use href="#d" x="376.8" y="1976.2"/></g>
<g id="n98-878"><use href="#d" x="376.8" y="1996.5"/></g>
<g id="n99-878"><use href="#d" x="376.8" y="2016.7"/></g>
<g id="n100-878"><use href="#d" x="376.8" y="2037"/></g>
<g id="n101-878"><use href="#d" x="376.8" y="2057.3"/></g>
<g id="n102-878"><use href="#d" x="376.8" y="2077.5"/></g>
<g id="n103-878"><use href="#d" x="376.8" y="2097.8"/></g>
<g id="n104-878"><use href="#d" x="376.8" y="2118.1"/></g>
<g id="n91-956"><use href="#d" x="410.3" y="1854.6"/></g>
<g id="n92-956"><use href="#d" x="410.3" y="1874.8"/></g>
<g id="n93-956"><use href="#d" x="410.3" y="1895.1"/></g>
<g id="n94-956"><use href="#d" x="410.3" y="1915.4"/></g>
<g id="n95-956"><use href="#d" x="410.3" y="1935.7"/></g>
<g id="n96-956"><use href="#d" x="410.3" y="1955.9"/></g>
<g id="n99-956"><use href="#d" x="410.3" y="2016.7"/></g>
<g id="n100-956"><use href="#d" x="410.3" y="2037"/></g>
<g id="n101-956"><use href="#d" x="410.3" y="2057.3"/></g>
<g id="n102-956"><use href="#d" x="410.3" y="2077.5"/></g>
<g id="n103-956"><use href="#d" x="410.3" y="2097.8"/></g>
<g id="n104-956"><use href="#d" x="410.3" y="2118.1"/></g>
<g id="n91-1035"><use href="#d" x="444.2" y="1854.6"/></g>
<g id="n92-1035"><use href="#d" x="444.2" y="1874.8"/></g>
<g id="n93-1035"><use href="#d" x="444.2" y="1895.1"/></g>
<g id="n94-1035"><use href="#d" x="444.2" y="1915.4"/></g>
<g id="n95-1035"><use href="#d" x="444.2" y="1935.7"/></g>
<g id="n96-1035"><use href="#d" x="444.2" y="1955.9"/></g>
<g id="n97-1035"><use href="#d" x="444.2" y="1976.2"/></g>
<g id="n98-1035"><use href="#d" x="444.2" y="1996.5"/></g>
<g id="n99-1035"><use href="#d" x="444.2" y="2016.7"/></g>
<g id="n100-1035"><use href="#d" x="444.2" y="2037"/></g>
<g id="n103-1035"><use href="#d" x="444.2" y="2097.8"/></g>
<g id="n104-1035"><use href="#d" x="444.2" y="2118.1"/></g>
<g id="n91-1174"><use href="#d" x="503.9" y="1854.6"/></g>
<g id="n91-1278"><use href="#d" x="548.5" y="1854.6"/></g>
<g id="n92-1278"><use href="#d" x="548.5" y="1874.8"/></g>
<g id="n91-1356"><use href="#d" x="582" y="1854.6"/></g>
<g id="n92-1356"><use href="#d" x="582" y="1874.8"/></g>
<g id="n92-1190"><use href="#d" x="510.7" y="1874.8"/></g>
<g id="n93-1190"><use href="#d" x="510.7" y="1895.1"/></g>
<g id="n94-1190"><use href="#d" x="510.7" y="1915.4"/></g>
<g id="n95-1190"><use href="#d" x="510.7" y="1935.7"/></g>
<g id="n96-1190"><use href="#d" x="510.7" y="1955.9"/></g>
<g id="n97-1190"><use href="#d" x="510.7" y="1976.2"/></g>
<g id="n98-1190"><use href="#d" x="510.7" y="1996.5"/></g>
<g id="n99-1190"><use href="#d" x="510.7" y="2016.7"/></g>
<g id="n100-1190"><use href="#d" x="510.7" y="2037"/></g>
<g id="n101-1190"><use href="#d" x="510.7" y="2057.3"/></g>
<g id="n93-1112"><use href="#d" x="477.3" y="1895.1"/></g>
<g id="n94-1112"><use href="#d" x="477.3" y="1915.4"/></g>
<g id="n95-1112"><use href="#d" x="477.3" y="1935.7"/></g>
<g id="n96-1112"><use href="#d" x="477.3" y="1955.9"/></g>
<g id="n97-1112"><use href="#d" x="477.3" y="1976.2"/></g>
<g id="n98-1112"><use href="#d" x="477.3" y="1996.5"/></g>
<g id="n99-1112"><use href="#d" x="477.3" y="2016.7"/></g>
<g id="n100-1112"><use href="#d" x="477.3" y="2037"/></g>
<g id="n102-1112"><use href="#d" x="477.3" y="2077.5"/></g>
<g id="n103-1112"><use href="#d" x="477.3" y="2097.8"/></g>
<g id="n104-1112"><use href="#d" x="477.3" y="2118.1"/></g>
<g id="n93-1268"><use href="#d" x="544.2" y="1895.1"/></g>
<g id="n94-1268"><use href="#d" x="544.2" y="1915.4"/></g>
<g id="n93-1352"><use href="#d" x="580.3" y="1895.1"/></g>
<g id="n94-1352"><use href="#d" x="580.3" y="1915.4"/></g>
<g id="n95-1352"><use href="#d" x="580.3" y="1935.7"/></g>
<g id="n96-1352"><use href="#d" x="580.3" y="1955.9"/></g>
<g id="n93-1431"><use href="#d" x="614.2" y="1895.1"/></g>
<g id="n94-1431"><use href="#d" x="614.2" y="1915.4"/></g>
<g id="n95-1431"><use href="#d" x="614.2" y="1935.7"/></g>
<g id="n96-1431"><use href="#d" x="614.2" y="1955.9"/></g>
<g id="n97-451"><use href="#d" x="193.6" y="1976.2"/></g>
<g id="n98-451"><use href="#d" x="193.6" y="1996.5"/></g>
<g id="n99-451"><use href="#d" x="193.6" y="2016.7"/></g>
<g id="n100-451"><use href="#d" x="193.6" y="2037"/></g>
<g id="n101-451"><use href="#d" x="193.6" y="2057.3"/></g>
<g id="n102-451"><use href="#d" x="193.6" y="2077.5"/></g>
<g id="n97-797"><use href="#d" x="342.1" y="1976.2"/></g>
<g id="n98-795"><use href="#d" x="341.2" y="1996.5"/></g>
<g id="n99-795"><use href="#d" x="341.2" y="2016.7"/></g>
<g id="n99-313"><use href="#d" x="134.3" y="2016.7"/></g>
<g id="n100-313"><use href="#d" x="134.3" y="2037"/></g>
<g id="n101-313"><use href="#d" x="134.3" y="2057.3"/></g>
<g id="n102-313"><use href="#d" x="134.3" y="2077.5"/></g>
<g id="n100-785"><use href="#d" x="336.9" y="2037"/></g>
<g id="n101-785"><use href="#d" x="336.9" y="2057.3"/></g>
<g id="n101-236"><use href="#d" x="101.3" y="2057.3"/></g>
<g id="n102-236"><use href="#d" x="101.3" y="2077.5"/></g>
<g id="n101-1074"><use href="#d" x="460.9" y="2057.3"/></g>
<g id="n102-766"><use href="#d" x="328.8" y="2077.5"/></g>
<g id="n122-766"><use href="#d" x="328.8" y="2482.9"/></g>
<g id="n102-1193"><use href="#d" x="512" y="2077.5"/></g>
<g id="n103-1193"><use href="#d" x="512" y="2097.8"/></g>
<g id="n104-1193"><use href="#d" x="512" y="2118.1"/></g>
<g id="n105-1193"><use href="#d" x="512" y="2138.4"/></g>
<g id="n106-1193"><use href="#d" x="512" y="2158.6"/></g>
<g id="n107-1193"><use href="#d" x="512" y="2178.9"/></g>
<g id="n108-1193"><use href="#d" x="512" y="2199.2"/></g>
<g id="n109-1193"><use href="#d" x="512" y="2219.4"/></g>
<g id="n110-1193"><use href="#d" x="512" y="2239.7"/></g>
<g id="n111-1193"><use href="#d" x="512" y="2260"/></g>
<g id="n112-1193"><use href="#d" x="512" y="2280.2"/></g>
<g id="n127-1193"><use href="#d" x="512" y="2584.3"/></g>
<g id="n128-1193"><use href="#d" x="512" y="2604.6"/></g>
<g id="n129-1193"><use href="#d" x="512" y="2624.8"/></g>
<g id="n130-1193"><use href="#d" x="512" y="2645.1"/></g>
<g id="n131-1193"><use href="#d" x="512" y="2665.4"/></g>
<g id="n132-1193"><use href="#d" x="512" y="2685.6"/></g>
<g id="n133-1193"><use href="#d" x="512" y="2705.9"/></g>
<g id="n134-1193"><use href="#d" x="512" y="2726.2"/></g>
<g id="n135-1193"><use href="#d" x="512" y="2746.5"/></g>
<g id="n136-1193"><use href="#d" x="512" y="2766.7"/></g>
<g id="n103-310"><use href="#d" x="133" y="2097.8"/></g>
<g id="n103-432"><use href="#d" x="185.4" y="2097.8"/></g>
<g id="n104-432"><use href="#d" x="185.4" y="2118.1"/></g>
<g id="n103-510"><use href="#d" x="218.9" y="2097.8"/></g>
<g id="n104-510"><use href="#d" x="218.9" y="2118.1"/></g>
<g id="n103-762"><use href="#d" x="327" y="2097.8"/></g>
<g id="n103-1310"><use href="#d" x="562.2" y="2097.8"/></g>
<g id="n104-1310"><use href="#d" x="562.2" y="2118.1"/></g>
<g id="n104-283"><use href="#d" x="121.5" y="2118.1"/></g>
<g id="n104-724"><use href="#d" x="310.7" y="2118.1"/></g>
<g id="n105-724"><use href="#d" x="310.7" y="2138.4"/></g>
<g id="n106-724"><use href="#d" x="310.7" y="2158.6"/></g>
<g id="n107-724"><use href="#d" x="310.7" y="2178.9"/></g>
<g id="n108-724"><use href="#d" x="310.7" y="2199.2"/></g>
<g id="n105-268"><use href="#d" x="115" y="2138.4"/></g>
<g id="n105-423"><use href="#d" x="181.5" y="2138.4"/></g>
<g id="n106-423"><use href="#d" x="181.5" y="2158.6"/></g>
<g id="n107-423"><use href="#d" x="181.5" y="2178.9"/></g>
<g id="n108-423"><use href="#d" x="181.5" y="2199.2"/></g>
<g id="n109-423"><use href="#d" x="181.5" y="2219.4"/></g>
<g id="n110-423"><use href="#d" x="181.5" y="2239.7"/></g>
<g id="n105-501"><use href="#d" x="215" y="2138.4"/></g>
<g id="n106-501"><use href="#d" x="215" y="2158.6"/></g>
<g id="n107-501"><use href="#d" x="215" y="2178.9"/></g>
<g id="n108-501"><use href="#d" x="215" y="2199.2"/></g>
<g id="n109-501"><use href="#d" x="215" y="2219.4"/></g>
<g id="n110-501"><use href="#d" x="215" y="2239.7"/></g>
<g id="n105-648"><use href="#d" x="278.1" y="2138.4"/></g>
<g id="n106-648"><use href="#d" x="278.1" y="2158.6"/></g>
<g id="n107-648"><use href="#d" x="278.1" y="2178.9"/></g>
<g id="n108-648"><use href="#d" x="278.1" y="2199.2"/></g>
<g id="n109-648"><use href="#d" x="278.1" y="2219.4"/></g>
<g id="n110-648"><use href="#d" x="278.1" y="2239.7"/></g>
<g id="n111-648"><use href="#d" x="278.1" y="2260"/></g>
<g id="n112-648"><use href="#d" x="278.1" y="2280.2"/></g>
<g id="n113-648"><use href="#d" x="278.1" y="2300.5"/></g>
<g id="n114-648"><use href="#d" x="278.1" y="2320.8"/></g>
<g id="n115-648"><use href="#d" x="278.1" y="2341.1"/></g>
<g id="n116-648"><use href="#d" x="278.1" y="2361.3"/></g>
<g id="n117-648"><use href="#d" x="278.1" y="2381.6"/></g>
<g id="n118-648"><use href="#d" x="278.1" y="2401.9"/></g>
<g id="n122-648"><use href="#d" x="278.1" y="2482.9"/></g>
<g id="n123-648"><use href="#d" x="278.1" y="2503.2"/></g>
<g id="n125-648"><use href="#d" x="278.1" y="2543.8"/></g>
<g id="n126-648"><use href="#d" x="278.1" y="2564"/></g>
<g id="n127-648"><use href="#d" x="278.1" y="2584.3"/></g>
<g id="n128-648"><use href="#d" x="278.1" y="2604.6"/></g>
<g id="n129-648"><use href="#d" x="278.1" y="2624.8"/></g>
<g id="n130-648"><use href="#d" x="278.1" y="2645.1"/></g>
<g id="n131-648"><use href="#d" x="278.1" y="2665.4"/></g>
<g id="n132-648"><use href="#d" x="278.1" y="2685.6"/></g>
<g id="n133-648"><use href="#d" x="278.1" y="2705.9"/></g>
<g id="n134-648"><use href="#d" x="278.1" y="2726.2"/></g>
<g id="n105-802"><use href="#d" x="344.2" y="2138.4"/></g>
<g id="n106-802"><use href="#d" x="344.2" y="2158.6"/></g>
<g id="n107-802"><use href="#d" x="344.2" y="2178.9"/></g>
<g id="n108-802"><use href="#d" x="344.2" y="2199.2"/></g>
<g id="n111-802"><use href="#d" x="344.2" y="2260"/></g>
<g id="n112-802"><use href="#d" x="344.2" y="2280.2"/></g>
<g id="n123-802"><use href="#d" x="344.2" y="2503.2"/></g>
<g id="n124-802"><use href="#d" x="344.2" y="2523.5"/></g>
<g id="n125-802"><use href="#d" x="344.2" y="2543.8"/></g>
<g id="n126-802"><use href="#d" x="344.2" y="2564"/></g>
<g id="n127-802"><use href="#d" x="344.2" y="2584.3"/></g>
<g id="n128-802"><use href="#d" x="344.2" y="2604.6"/></g>
<g id="n129-802"><use href="#d" x="344.2" y="2624.8"/></g>
<g id="n130-802"><use href="#d" x="344.2" y="2645.1"/></g>
<g id="n131-802"><use href="#d" x="344.2" y="2665.4"/></g>
<g id="n132-802"><use href="#d" x="344.2" y="2685.6"/></g>
<g id="n133-802"><use href="#d" x="344.2" y="2705.9"/></g>
<g id="n134-802"><use href="#d" x="344.2" y="2726.2"/></g>
<g id="n105-959"><use href="#d" x="411.6" y="2138.4"/></g>
<g id="n106-959"><use href="#d" x="411.6" y="2158.6"/></g>
<g id="n108-959"><use href="#d" x="411.6" y="2199.2"/></g>
<g id="n109-959"><use href="#d" x="411.6" y="2219.4"/></g>
<g id="n110-959"><use href="#d" x="411.6" y="2239.7"/></g>
<g id="n111-959"><use href="#d" x="411.6" y="2260"/></g>
<g id="n112-959"><use href="#d" x="411.6" y="2280.2"/></g>
<g id="n113-959"><use href="#d" x="411.6" y="2300.5"/></g>
<g id="n114-959"><use href="#d" x="411.6" y="2320.8"/></g>
<g id="n115-959"><use href="#d" x="411.6" y="2341.1"/></g>
<g id="n116-959"><use href="#d" x="411.6" y="2361.3"/></g>
<g id="n117-959"><use href="#d" x="411.6" y="2381.6"/></g>
<g id="n118-959"><use href="#d" x="411.6" y="2401.9"/></g>
<g id="n129-959"><use href="#d" x="411.6" y="2624.8"/></g>
<g id="n130-959"><use href="#d" x="411.6" y="2645.1"/></g>
<g id="n131-959"><use href="#d" x="411.6" y="2665.4"/></g>
<g id="n132-959"><use href="#d" x="411.6" y="2685.6"/></g>
<g id="n133-959"><use href="#d" x="411.6" y="2705.9"/></g>
<g id="n134-959"><use href="#d" x="411.6" y="2726.2"/></g>
<g id="n135-959"><use href="#d" x="411.6" y="2746.5"/></g>
<g id="n136-959"><use href="#d" x="411.6" y="2766.7"/></g>
<g id="n137-959"><use href="#d" x="411.6" y="2787"/></g>
<g id="n138-959"><use href="#d" x="411.6" y="2807.3"/></g>
<g id="n139-959"><use href="#d" x="411.6" y="2827.5"/></g>
<g id="n140-959"><use href="#d" x="411.6" y="2847.8"/></g>
<g id="n105-1038"><use href="#d" x="445.5" y="2138.4"/></g>
<g id="n106-1038"><use href="#d" x="445.5" y="2158.6"/></g>
<g id="n111-1038"><use href="#d" x="445.5" y="2260"/></g>
<g id="n112-1038"><use href="#d" x="445.5" y="2280.2"/></g>
<g id="n129-1038"><use href="#d" x="445.5" y="2624.8"/></g>
<g id="n130-1038"><use href="#d" x="445.5" y="2645.1"/></g>
<g id="n131-1038"><use href="#d" x="445.5" y="2665.4"/></g>
<g id="n132-1038"><use href="#d" x="445.5" y="2685.6"/></g>
<g id="n133-1038"><use href="#d" x="445.5" y="2705.9"/></g>
<g id="n134-1038"><use href="#d" x="445.5" y="2726.2"/></g>
<g id="n135-1038"><use href="#d" x="445.5" y="2746.5"/></g>
<g id="n136-1038"><use href="#d" x="445.5" y="2766.7"/></g>
<g id="n137-1038"><use href="#d" x="445.5" y="2787"/></g>
<g id="n138-1038"><use href="#d" x="445.5" y="2807.3"/></g>
<g id="n139-1038"><use href="#d" x="445.5" y="2827.5"/></g>
<g id="n140-1038"><use href="#d" x="445.5" y="2847.8"/></g>
<g id="n141-1038"><use href="#d" x="445.5" y="2868.1"/></g>
<g id="n142-1038"><use href="#d" x="445.5" y="2888.3"/></g>
<g id="n159-1038"><use href="#d" x="445.5" y="3232.9"/></g>
<g id="n160-1038"><use href="#d" x="445.5" y="3253.2"/></g>
<g id="n161-1038"><use href="#d" x="445.5" y="3273.5"/></g>
<g id="n162-1038"><use href="#d" x="445.5" y="3293.7"/></g>
<g id="n163-1038"><use href="#d" x="445.5" y="3314"/></g>
<g id="n164-1038"><use href="#d" x="445.5" y="3334.3"/></g>
<g id="n105-1271"><use href="#d" x="545.5" y="2138.4"/></g>
<g id="n106-1271"><use href="#d" x="545.5" y="2158.6"/></g>
<g id="n107-1271"><use href="#d" x="545.5" y="2178.9"/></g>
<g id="n108-1271"><use href="#d" x="545.5" y="2199.2"/></g>
<g id="n111-1271"><use href="#d" x="545.5" y="2260"/></g>
<g id="n112-1271"><use href="#d" x="545.5" y="2280.2"/></g>
<g id="n121-1271"><use href="#d" x="545.5" y="2462.7"/></g>
<g id="n122-1271"><use href="#d" x="545.5" y="2482.9"/></g>
<g id="n123-1271"><use href="#d" x="545.5" y="2503.2"/></g>
<g id="n124-1271"><use href="#d" x="545.5" y="2523.5"/></g>
<g id="n125-1271"><use href="#d" x="545.5" y="2543.8"/></g>
<g id="n126-1271"><use href="#d" x="545.5" y="2564"/></g>
<g id="n127-1271"><use href="#d" x="545.5" y="2584.3"/></g>
<g id="n128-1271"><use href="#d" x="545.5" y="2604.6"/></g>
<g id="n129-1271"><use href="#d" x="545.5" y="2624.8"/></g>
<g id="n130-1271"><use href="#d" x="545.5" y="2645.1"/></g>
<g id="n105-1349"><use href="#d" x="579" y="2138.4"/></g>
<g id="n106-1349"><use href="#d" x="579" y="2158.6"/></g>
<g id="n107-1349"><use href="#d" x="579" y="2178.9"/></g>
<g id="n108-1349"><use href="#d" x="579" y="2199.2"/></g>
<g id="n109-1349"><use href="#d" x="579" y="2219.4"/></g>
<g id="n110-1349"><use href="#d" x="579" y="2239.7"/></g>
<g id="n111-1349"><use href="#d" x="579" y="2260"/></g>
<g id="n112-1349"><use href="#d" x="579" y="2280.2"/></g>
<g id="n113-1349"><use href="#d" x="579" y="2300.5"/></g>
<g id="n114-1349"><use href="#d" x="579" y="2320.8"/></g>
<g id="n115-1349"><use href="#d" x="579" y="2341.1"/></g>
<g id="n116-1349"><use href="#d" x="579" y="2361.3"/></g>
<g id="n119-1349"><use href="#d" x="579" y="2422.1"/></g>
<g id="n120-1349"><use href="#d" x="579" y="2442.4"/></g>
<g id="n121-1349"><use href="#d" x="579" y="2462.7"/></g>
<g id="n122-1349"><use href="#d" x="579" y="2482.9"/></g>
<g id="n123-1349"><use href="#d" x="579" y="2503.2"/></g>
<g id="n124-1349"><use href="#d" x="579" y="2523.5"/></g>
<g id="n105-1428"><use href="#d" x="612.9" y="2138.4"/></g>
<g id="n106-1428"><use href="#d" x="612.9" y="2158.6"/></g>
<g id="n109-1428"><use href="#d" x="612.9" y="2219.4"/></g>
<g id="n110-1428"><use href="#d" x="612.9" y="2239.7"/></g>
<g id="n111-1428"><use href="#d" x="612.9" y="2260"/></g>
<g id="n112-1428"><use href="#d" x="612.9" y="2280.2"/></g>
<g id="n115-1428"><use href="#d" x="612.9" y="2341.1"/></g>
<g id="n116-1428"><use href="#d" x="612.9" y="2361.3"/></g>
<g id="n117-1428"><use href="#d" x="612.9" y="2381.6"/></g>
<g id="n118-1428"><use href="#d" x="612.9" y="2401.9"/></g>
<g id="n119-1428"><use href="#d" x="612.9" y="2422.1"/></g>
<g id="n120-1428"><use href="#d" x="612.9" y="2442.4"/></g>
<g id="n121-1428"><use href="#d" x="612.9" y="2462.7"/></g>
<g id="n122-1428"><use href="#d" x="612.9" y="2482.9"/></g>
<g id="n106-260"><use href="#d" x="111.6" y="2158.6"/></g>
<g id="n107-260"><use href="#d" x="111.6" y="2178.9"/></g>
<g id="n108-260"><use href="#d" x="111.6" y="2199.2"/></g>
<g id="n107-183"><use href="#d" x="78.5" y="2178.9"/></g>
<g id="n108-180"><use href="#d" x="77.3" y="2199.2"/></g>
<g id="n109-180"><use href="#d" x="77.3" y="2219.4"/></g>
<g id="n110-180"><use href="#d" x="77.3" y="2239.7"/></g>
<g id="n111-180"><use href="#d" x="77.3" y="2260"/></g>
<g id="n112-180"><use href="#d" x="77.3" y="2280.2"/></g>
<g id="n113-180"><use href="#d" x="77.3" y="2300.5"/></g>
<g id="n114-180"><use href="#d" x="77.3" y="2320.8"/></g>
<g id="n115-180"><use href="#d" x="77.3" y="2341.1"/></g>
<g id="n116-180"><use href="#d" x="77.3" y="2361.3"/></g>
<g id="n117-180"><use href="#d" x="77.3" y="2381.6"/></g>
<g id="n118-180"><use href="#d" x="77.3" y="2401.9"/></g>
<g id="n119-180"><use href="#d" x="77.3" y="2422.1"/></g>
<g id="n120-180"><use href="#d" x="77.3" y="2442.4"/></g>
<g id="n121-180"><use href="#d" x="77.3" y="2462.7"/></g>
<g id="n122-180"><use href="#d" x="77.3" y="2482.9"/></g>
<g id="n123-180"><use href="#d" x="77.3" y="2503.2"/></g>
<g id="n124-180"><use href="#d" x="77.3" y="2523.5"/></g>
<g id="n125-180"><use href="#d" x="77.3" y="2543.8"/></g>
<g id="n126-180"><use href="#d" x="77.3" y="2564"/></g>
<g id="n109-101"><use href="#d" x="43.3" y="2219.4"/></g>
<g id="n110-101"><use href="#d" x="43.3" y="2239.7"/></g>
<g id="n111-101"><use href="#d" x="43.3" y="2260"/></g>
<g id="n112-101"><use href="#d" x="43.3" y="2280.2"/></g>
<g id="n109-258"><use href="#d" x="110.7" y="2219.4"/></g>
<g id="n110-258"><use href="#d" x="110.7" y="2239.7"/></g>
<g id="n111-258"><use href="#d" x="110.7" y="2260"/></g>
<g id="n112-258"><use href="#d" x="110.7" y="2280.2"/></g>
<g id="n123-258"><use href="#d" x="110.7" y="2503.2"/></g>
<g id="n124-258"><use href="#d" x="110.7" y="2523.5"/></g>
<g id="n125-258"><use href="#d" x="110.7" y="2543.8"/></g>
<g id="n126-258"><use href="#d" x="110.7" y="2564"/></g>
<g id="n133-258"><use href="#d" x="110.7" y="2705.9"/></g>
<g id="n134-258"><use href="#d" x="110.7" y="2726.2"/></g>
<g id="n135-258"><use href="#d" x="110.7" y="2746.5"/></g>
<g id="n136-258"><use href="#d" x="110.7" y="2766.7"/></g>
<g id="n109-336"><use href="#d" x="144.2" y="2219.4"/></g>
<g id="n110-336"><use href="#d" x="144.2" y="2239.7"/></g>
<g id="n111-336"><use href="#d" x="144.2" y="2260"/></g>
<g id="n112-336"><use href="#d" x="144.2" y="2280.2"/></g>
<g id="n113-336"><use href="#d" x="144.2" y="2300.5"/></g>
<g id="n114-336"><use href="#d" x="144.2" y="2320.8"/></g>
<g id="n115-336"><use href="#d" x="144.2" y="2341.1"/></g>
<g id="n116-336"><use href="#d" x="144.2" y="2361.3"/></g>
<g id="n125-336"><use href="#d" x="144.2" y="2543.8"/></g>
<g id="n126-336"><use href="#d" x="144.2" y="2564"/></g>
<g id="n127-336"><use href="#d" x="144.2" y="2584.3"/></g>
<g id="n128-336"><use href="#d" x="144.2" y="2604.6"/></g>
<g id="n129-336"><use href="#d" x="144.2" y="2624.8"/></g>
<g id="n130-336"><use href="#d" x="144.2" y="2645.1"/></g>
<g id="n131-336"><use href="#d" x="144.2" y="2665.4"/></g>
<g id="n132-336"><use href="#d" x="144.2" y="2685.6"/></g>
<g id="n133-336"><use href="#d" x="144.2" y="2705.9"/></g>
<g id="n134-336"><use href="#d" x="144.2" y="2726.2"/></g>
<g id="n109-743"><use href="#d" x="318.9" y="2219.4"/></g>
<g id="n109-1116"><use href="#d" x="479" y="2219.4"/></g>
<g id="n110-1116"><use href="#d" x="479" y="2239.7"/></g>
<g id="n111-1116"><use href="#d" x="479" y="2260"/></g>
<g id="n112-1116"><use href="#d" x="479" y="2280.2"/></g>
<g id="n128-1116"><use href="#d" x="479" y="2604.6"/></g>
<g id="n129-1116"><use href="#d" x="479" y="2624.8"/></g>
<g id="n130-1116"><use href="#d" x="479" y="2645.1"/></g>
<g id="n131-1116"><use href="#d" x="479" y="2665.4"/></g>
<g id="n132-1116"><use href="#d" x="479" y="2685.6"/></g>
<g id="n135-1116"><use href="#d" x="479" y="2746.5"/></g>
<g id="n136-1116"><use href="#d" x="479" y="2766.7"/></g>
<g id="n159-1116"><use href="#d" x="479" y="3232.9"/></g>
<g id="n160-1116"><use href="#d" x="479" y="3253.2"/></g>
<g id="n111-23"><use href="#d" x="9.9" y="2260"/></g>
<g id="n112-23"><use href="#d" x="9.9" y="2280.2"/></g>
<g id="n113-23"><use href="#d" x="9.9" y="2300.5"/></g>
<g id="n114-23"><use href="#d" x="9.9" y="2320.8"/></g>
<g id="n111-413"><use href="#d" x="177.3" y="2260"/></g>
<g id="n112-413"><use href="#d" x="177.3" y="2280.2"/></g>
<g id="n113-413"><use href="#d" x="177.3" y="2300.5"/></g>
<g id="n114-413"><use href="#d" x="177.3" y="2320.8"/></g>
<g id="n127-413"><use href="#d" x="177.3" y="2584.3"/></g>
<g id="n128-413"><use href="#d" x="177.3" y="2604.6"/></g>
<g id="n129-413"><use href="#d" x="177.3" y="2624.8"/></g>
<g id="n130-413"><use href="#d" x="177.3" y="2645.1"/></g>
<g id="n133-413"><use href="#d" x="177.3" y="2705.9"/></g>
<g id="n134-413"><use href="#d" x="177.3" y="2726.2"/></g>
<g id="n111-491"><use href="#d" x="210.7" y="2260"/></g>
<g id="n112-491"><use href="#d" x="210.7" y="2280.2"/></g>
<g id="n113-491"><use href="#d" x="210.7" y="2300.5"/></g>
<g id="n114-491"><use href="#d" x="210.7" y="2320.8"/></g>
<g id="n115-491"><use href="#d" x="210.7" y="2341.1"/></g>
<g id="n116-491"><use href="#d" x="210.7" y="2361.3"/></g>
<g id="n126-491"><use href="#d" x="210.7" y="2564"/></g>
<g id="n127-491"><use href="#d" x="210.7" y="2584.3"/></g>
<g id="n128-491"><use href="#d" x="210.7" y="2604.6"/></g>
<g id="n129-491"><use href="#d" x="210.7" y="2624.8"/></g>
<g id="n130-491"><use href="#d" x="210.7" y="2645.1"/></g>
<g id="n131-491"><use href="#d" x="210.7" y="2665.4"/></g>
<g id="n132-491"><use href="#d" x="210.7" y="2685.6"/></g>
<g id="n133-491"><use href="#d" x="210.7" y="2705.9"/></g>
<g id="n134-491"><use href="#d" x="210.7" y="2726.2"/></g>
<g id="n135-491"><use href="#d" x="210.7" y="2746.5"/></g>
<g id="n136-491"><use href="#d" x="210.7" y="2766.7"/></g>
<g id="n111-725"><use href="#d" x="311.2" y="2260"/></g>
<g id="n112-725"><use href="#d" x="311.2" y="2280.2"/></g>
<g id="n113-725"><use href="#d" x="311.2" y="2300.5"/></g>
<g id="n114-725"><use href="#d" x="311.2" y="2320.8"/></g>
<g id="n115-725"><use href="#d" x="311.2" y="2341.1"/></g>
<g id="n116-725"><use href="#d" x="311.2" y="2361.3"/></g>
<g id="n117-725"><use href="#d" x="311.2" y="2381.6"/></g>
<g id="n118-725"><use href="#d" x="311.2" y="2401.9"/></g>
<g id="n123-725"><use href="#d" x="311.2" y="2503.2"/></g>
<g id="n124-725"><use href="#d" x="311.2" y="2523.5"/></g>
<g id="n125-725"><use href="#d" x="311.2" y="2543.8"/></g>
<g id="n126-725"><use href="#d" x="311.2" y="2564"/></g>
<g id="n127-725"><use href="#d" x="311.2" y="2584.3"/></g>
<g id="n128-725"><use href="#d" x="311.2" y="2604.6"/></g>
<g id="n129-725"><use href="#d" x="311.2" y="2624.8"/></g>
<g id="n130-725"><use href="#d" x="311.2" y="2645.1"/></g>
<g id="n131-725"><use href="#d" x="311.2" y="2665.4"/></g>
<g id="n132-725"><use href="#d" x="311.2" y="2685.6"/></g>
<g id="n133-725"><use href="#d" x="311.2" y="2705.9"/></g>
<g id="n134-725"><use href="#d" x="311.2" y="2726.2"/></g>
<g id="n135-725"><use href="#d" x="311.2" y="2746.5"/></g>
<g id="n136-725"><use href="#d" x="311.2" y="2766.7"/></g>
<g id="n137-725"><use href="#d" x="311.2" y="2787"/></g>
<g id="n138-725"><use href="#d" x="311.2" y="2807.3"/></g>
<g id="n111-1505"><use href="#d" x="645.9" y="2260"/></g>
<g id="n112-1505"><use href="#d" x="645.9" y="2280.2"/></g>
<g id="n117-1505"><use href="#d" x="645.9" y="2381.6"/></g>
<g id="n118-1505"><use href="#d" x="645.9" y="2401.9"/></g>
<g id="n113-1465"><use href="#d" x="628.8" y="2300.5"/></g>
<g id="n114-1465"><use href="#d" x="628.8" y="2320.8"/></g>
<g id="n113-1543"><use href="#d" x="662.2" y="2300.5"/></g>
<g id="n114-1543"><use href="#d" x="662.2" y="2320.8"/></g>
<g id="n119-666"><use href="#d" x="285.8" y="2422.1"/></g>
<g id="n119-747"><use href="#d" x="320.6" y="2422.1"/></g>
<g id="n120-747"><use href="#d" x="320.6" y="2442.4"/></g>
<g id="n121-747"><use href="#d" x="320.6" y="2462.7"/></g>
<g id="n120-660"><use href="#d" x="283.3" y="2442.4"/></g>
<g id="n121-651"><use href="#d" x="279.4" y="2462.7"/></g>
<g id="n153-651"><use href="#d" x="279.4" y="3111.3"/></g>
<g id="n154-651"><use href="#d" x="279.4" y="3131.6"/></g>
<g id="n155-651"><use href="#d" x="279.4" y="3151.9"/></g>
<g id="n156-651"><use href="#d" x="279.4" y="3172.1"/></g>
<g id="n157-651"><use href="#d" x="279.4" y="3192.4"/></g>
<g id="n158-651"><use href="#d" x="279.4" y="3212.7"/></g>
<g id="n123-941"><use href="#d" x="403.9" y="2503.2"/></g>
<g id="n124-610"><use href="#d" x="261.8" y="2523.5"/></g>
<g id="n125-532"><use href="#d" x="228.3" y="2543.8"/></g>
<g id="n125-1134"><use href="#d" x="486.7" y="2543.8"/></g>
<g id="n126-1164"><use href="#d" x="499.6" y="2564"/></g>
<g id="n127-900"><use href="#d" x="386.3" y="2584.3"/></g>
<g id="n128-900"><use href="#d" x="386.3" y="2604.6"/></g>
<g id="n127-1096"><use href="#d" x="470.4" y="2584.3"/></g>
<g id="n136-872"><use href="#d" x="374.2" y="2766.7"/></g>
<g id="n137-853"><use href="#d" x="366.1" y="2787"/></g>
<g id="n141-962"><use href="#d" x="412.9" y="2868.1"/></g>
<g id="n142-962"><use href="#d" x="412.9" y="2888.3"/></g>
<g id="n143-962"><use href="#d" x="412.9" y="2908.6"/></g>
<g id="n144-962"><use href="#d" x="412.9" y="2928.9"/></g>
<g id="n145-962"><use href="#d" x="412.9" y="2949.2"/></g>
<g id="n146-962"><use href="#d" x="412.9" y="2969.4"/></g>
<g id="n147-962"><use href="#d" x="412.9" y="2989.7"/></g>
<g id="n148-962"><use href="#d" x="412.9" y="3010"/></g>
<g id="n149-962"><use href="#d" x="412.9" y="3030.2"/></g>
<g id="n150-962"><use href="#d" x="412.9" y="3050.5"/></g>
<g id="n151-962"><use href="#d" x="412.9" y="3070.8"/></g>
<g id="n152-962"><use href="#d" x="412.9" y="3091"/></g>
<g id="n153-962"><use href="#d" x="412.9" y="3111.3"/></g>
<g id="n154-962"><use href="#d" x="412.9" y="3131.6"/></g>
<g id="n143-654"><use href="#d" x="280.7" y="2908.6"/></g>
<g id="n144-654"><use href="#d" x="280.7" y="2928.9"/></g>
<g id="n145-654"><use href="#d" x="280.7" y="2949.2"/></g>
<g id="n146-654"><use href="#d" x="280.7" y="2969.4"/></g>
<g id="n147-654"><use href="#d" x="280.7" y="2989.7"/></g>
<g id="n148-654"><use href="#d" x="280.7" y="3010"/></g>
<g id="n149-654"><use href="#d" x="280.7" y="3030.2"/></g>
<g id="n150-654"><use href="#d" x="280.7" y="3050.5"/></g>
<g id="n143-1041"><use href="#d" x="446.8" y="2908.6"/></g>
<g id="n144-1041"><use href="#d" x="446.8" y="2928.9"/></g>
<g id="n145-1041"><use href="#d" x="446.8" y="2949.2"/></g>
<g id="n146-1041"><use href="#d" x="446.8" y="2969.4"/></g>
<g id="n151-1041"><use href="#d" x="446.8" y="3070.8"/></g>
<g id="n152-1041"><use href="#d" x="446.8" y="3091"/></g>
<g id="n153-1041"><use href="#d" x="446.8" y="3111.3"/></g>
<g id="n154-1041"><use href="#d" x="446.8" y="3131.6"/></g>
<g id="n155-1041"><use href="#d" x="446.8" y="3151.9"/></g>
<g id="n156-1041"><use href="#d" x="446.8" y="3172.1"/></g>
<g id="n151-728"><use href="#d" x="312.4" y="3070.8"/></g>
<g id="n152-728"><use href="#d" x="312.4" y="3091"/></g>
<g id="n153-728"><use href="#d" x="312.4" y="3111.3"/></g>
<g id="n154-728"><use href="#d" x="312.4" y="3131.6"/></g>
<g id="n155-728"><use href="#d" x="312.4" y="3151.9"/></g>
<g id="n156-728"><use href="#d" x="312.4" y="3172.1"/></g>
<g id="n157-728"><use href="#d" x="312.4" y="3192.4"/></g>
<g id="n158-728"><use href="#d" x="312.4" y="3212.7"/></g>
<g id="n155-573"><use href="#d" x="245.9" y="3151.9"/></g>
<g id="n156-573"><use href="#d" x="245.9" y="3172.1"/></g>
<g id="n157-573"><use href="#d" x="245.9" y="3192.4"/></g>
<g id="n158-573"><use href="#d" x="245.9" y="3212.7"/></g>
<g id="n157-1078"><use href="#d" x="462.7" y="3192.4"/></g>
<g id="n158-1078"><use href="#d" x="462.7" y="3212.7"/></g>
</g>
</svg>
